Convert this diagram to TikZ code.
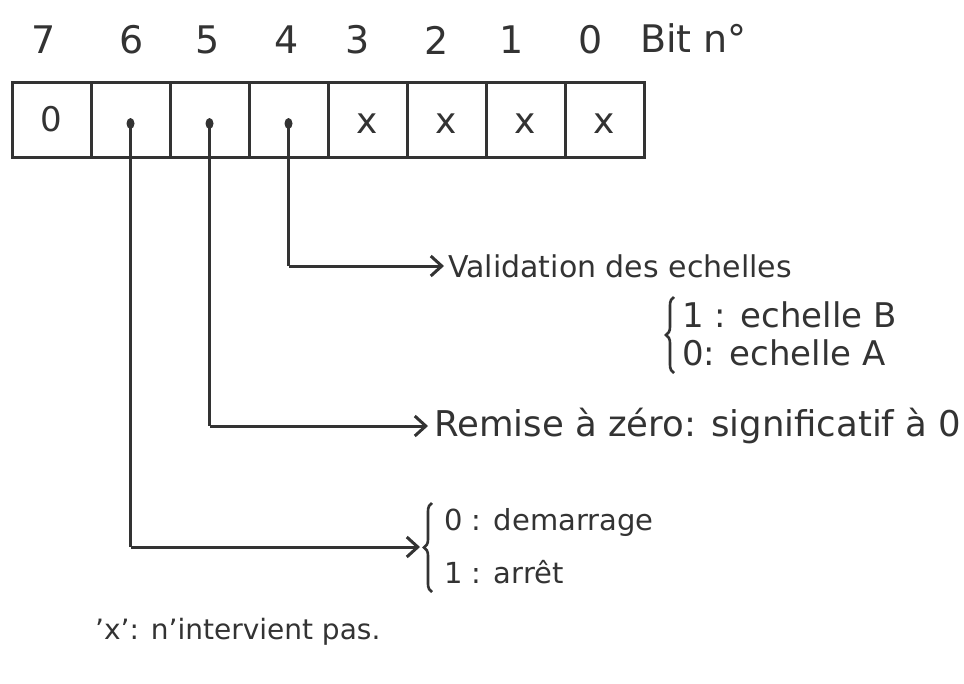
\documentclass[tikz,border=0pt]{standalone}
\usepackage{fontspec}
\setmainfont{DejaVu Sans}
\usetikzlibrary{arrows.meta,decorations.pathreplacing,shapes.geometric}
\definecolor{ink}{HTML}{333333}
\tikzset{
  cell/.style={draw=ink, line width=3pt, minimum width=79pt, minimum height=75pt,
    inner sep=0pt, text=ink, font=\fontsize{34}{38}\selectfont},
  bitnum/.style={text=ink, font=\fontsize{38}{42}\selectfont, inner sep=0pt},
  label/.style={text=ink, font=\fontsize{34}{40}\selectfont, inner sep=0pt, anchor=west},
  wire/.style={draw=ink, line width=3pt, line join=miter},
  arrow/.style={wire, -{Straight Barb[length=11pt,width=20pt,line width=3pt]}},
  pin/.style={ellipse, fill=ink, minimum width=8pt, minimum height=11pt, inner sep=0pt},
  curly/.style={draw=ink, line width=2.6pt, decorate,
    decoration={brace, amplitude=8pt}}
}
\begin{document}
\begin{tikzpicture}[x=1pt, y=-1pt]
  \useasboundingbox (0,0) rectangle (964,683);
  \fill[white] (0,0) rectangle (964,683);

  % register cells, bit 7 on the left
  \foreach \b [count=\k from 0] in {7,6,5,4,3,2,1,0}
    \node[cell] (c\b) at ({51.5+79*\k},119.5) {};
  \node[text=ink, font=\fontsize{34}{38}\selectfont] at (c7) {0};
  \foreach \b in {3,2,1,0}
    \node[text=ink, font=\fontsize{36}{40}\selectfont, yshift=-4pt] at (c\b) {x};
  \foreach \b in {6,5,4}
    \node[pin] (p\b) at ([yshift=-4pt]c\b.center) {};

  % bit numbers
  \node[bitnum] (n7) at (44,40) {7};
  \node[bitnum] (n6) at (132,40) {6};
  \node[bitnum] (n5) at (208,40) {5};
  \node[bitnum] (n4) at (287,40) {4};
  \node[bitnum] (n3) at (358,40) {3};
  \node[bitnum] (n2) at (437,40) {2};
  \node[bitnum] (n1) at (512,40) {1};
  \node[bitnum] (n0) at (591,40) {0};
  \node[bitnum, anchor=west] (bitn) at (640,38) {Bit n°};

  % bit 4: scale selection
  \node[label, font=\fontsize{30}{36}\selectfont] (val) at (448,266) {Validation des echelles};
  \node[label, font=\fontsize{34}{40}\selectfont] (eB) at (682,315) {1 : echelle B};
  \node[label, font=\fontsize{34}{40}\selectfont] (eA) at (682,353) {0: echelle A};
  \coordinate (k4) at (p4 |- val.west);
  \draw[wire] (p4.center) -- (k4);
  \draw[arrow] (k4) -- ([xshift=-4pt]val.west);
  \draw[curly] (674,373) -- (674,297);

  % bit 5: reset
  \node[label, font=\fontsize{35.5}{40}\selectfont] (raz) at (434,426) {Remise à zéro: significatif à 0};
  \coordinate (k5) at (p5 |- raz.west);
  \draw[wire] (p5.center) -- (k5);
  \draw[arrow] (k5) -- ([xshift=-6pt]raz.west);

  % bit 6: start / stop
  \node[label, font=\fontsize{29}{34}\selectfont] (dem) at (444,522) {0 : demarrage};
  \node[label, font=\fontsize{29}{34}\selectfont] (arr) at (444,572) {1 : arrêt};
  \coordinate (k6) at (p6 |- 0,547);
  \coordinate (b6) at (420,547);
  \draw[wire] (p6.center) -- (k6);
  \draw[arrow] (k6) -- (b6);
  \draw[curly] (432,592) -- (432,503);

  % legend
  \node[label, font=\fontsize{28}{34}\selectfont] (leg) at (95,632) {’x’: n’intervient pas.};
\end{tikzpicture}
\end{document}
